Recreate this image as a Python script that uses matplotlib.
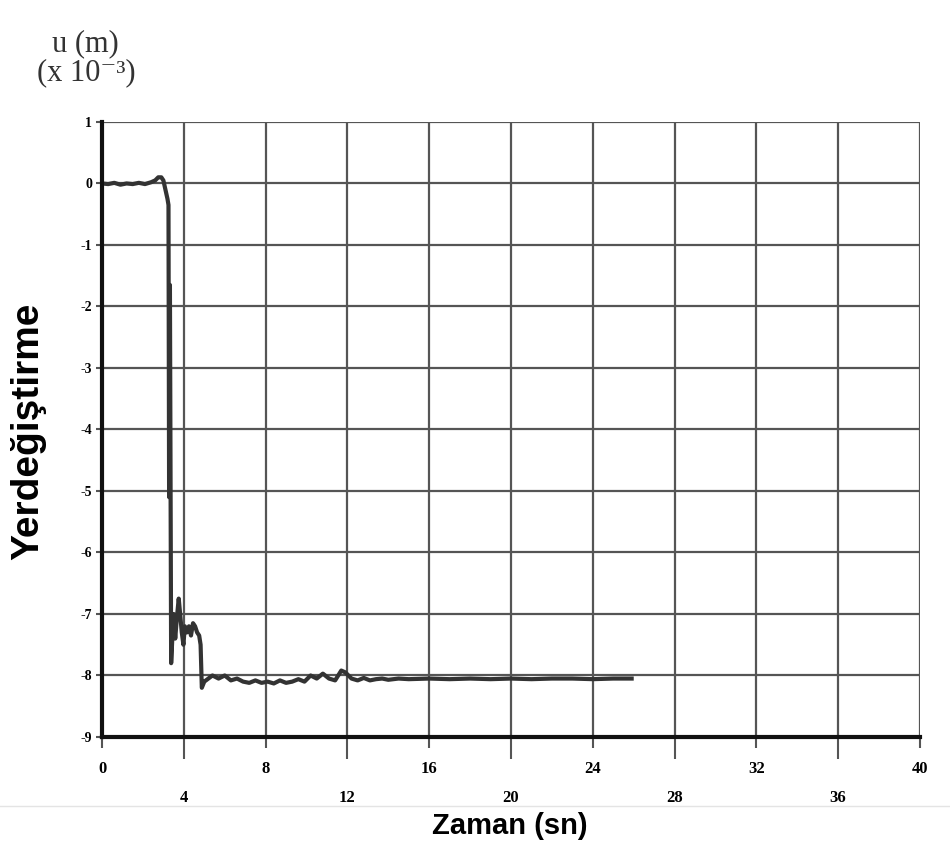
import matplotlib
matplotlib.use("Agg")
import matplotlib.pyplot as plt
from matplotlib.ticker import FixedLocator, FixedFormatter
from matplotlib.lines import Line2D

# Displacement record (time in s, displacement in m x 1e-3)
time_s = [0.0, 0.3, 0.6, 0.9, 1.2, 1.5, 1.8, 2.1, 2.4, 2.6, 2.75, 2.9, 3.0,
          3.1, 3.2, 3.25, 3.28, 3.32, 3.38, 3.45, 3.5, 3.58, 3.65, 3.75,
          3.82, 3.9, 3.98, 4.05, 4.15, 4.25, 4.35, 4.45, 4.55, 4.65, 4.75,
          4.82, 4.88, 5.0, 5.2, 5.4, 5.7, 6.0, 6.3, 6.6, 6.9, 7.2, 7.5,
          7.8, 8.1, 8.4, 8.7, 9.0, 9.3, 9.6, 9.9, 10.2, 10.5, 10.8, 11.1,
          11.4, 11.7, 11.9, 12.2, 12.5, 12.8, 13.1, 13.4, 13.7, 14.0, 14.5,
          15.0, 16.0, 17.0, 18.0, 19.0, 20.0, 21.0, 22.0, 23.0, 24.0, 25.0,
          25.9]
disp = [0.0, -0.01, 0.01, -0.02, 0.0, -0.01, 0.01, -0.01, 0.02, 0.05, 0.1,
        0.1, 0.05, -0.1, -0.25, -0.35, -5.1, -1.65, -7.8, -7.3, -7.0, -7.4,
        -7.1, -6.75, -7.0, -7.3, -7.5, -7.2, -7.3, -7.2, -7.35, -7.15,
        -7.2, -7.3, -7.35, -7.5, -8.2, -8.1, -8.05, -8.0, -8.05, -8.0,
        -8.08, -8.05, -8.1, -8.12, -8.08, -8.12, -8.1, -8.13, -8.08, -8.12,
        -8.1, -8.06, -8.1, -8.0, -8.05, -7.97, -8.05, -8.08, -7.92, -7.95,
        -8.05, -8.08, -8.04, -8.08, -8.06, -8.05, -8.07, -8.05, -8.06,
        -8.05, -8.06, -8.05, -8.06, -8.05, -8.06, -8.05, -8.05, -8.06,
        -8.05, -8.05]

upper_ticks = [0, 8, 16, 24, 32, 40]
lower_ticks = [4, 12, 20, 28, 36]
y_ticks = [1, 0, -1, -2, -3, -4, -5, -6, -7, -8, -9]

fig = plt.figure(figsize=(9.5, 8.44), dpi=100)
ax = fig.add_axes([0.1074, 0.1268, 0.8610, 0.7287])

ax.plot(time_s, disp, color="#333333", lw=3.0, solid_joinstyle="round",
        zorder=3)

ax.set_xlim(0, 40)
ax.set_ylim(-9, 1)

# grid lines every 4 s and every 1 unit
for xv in upper_ticks + lower_ticks:
    ax.axvline(xv, color="#555555", lw=1.6, zorder=1)
for yv in y_ticks:
    ax.axhline(yv, color="#555555", lw=1.6, zorder=1)

for side in ["top", "right"]:
    ax.spines[side].set_visible(False)
for side in ["left", "bottom"]:
    ax.spines[side].set_linewidth(3)
    ax.spines[side].set_color("#111111")
    ax.spines[side].set_zorder(4)

tick_font = dict(family="Liberation Serif", weight="bold")

ax.xaxis.set_major_locator(FixedLocator(upper_ticks))
ax.xaxis.set_major_formatter(FixedFormatter([str(v) for v in upper_ticks]))
ax.xaxis.set_minor_locator(FixedLocator(lower_ticks))
ax.xaxis.set_minor_formatter(FixedFormatter([str(v) for v in lower_ticks]))
ax.tick_params(axis="x", which="major", length=8, width=1.5,
               color="#555555", pad=9)
ax.tick_params(axis="x", which="minor", length=16, width=1.5,
               color="#555555", pad=22)
for lab in ax.get_xticklabels(which="both"):
    lab.set_fontproperties(tick_font)
    lab.set_fontsize(12)

ax.set_yticks(y_ticks)
ax.set_yticklabels([str(v) for v in y_ticks])
ax.tick_params(axis="y", length=4, width=1.5, color="#555555", pad=3)
for lab in ax.get_yticklabels():
    lab.set_fontproperties(tick_font)
    lab.set_fontsize(10)

fig.text(0.030, 0.489, "Yerdeğiştirme", rotation=90, ha="center",
         va="center", family="Liberation Sans", weight="bold", fontsize=28)
fig.text(0.537, 0.021, "Zaman (sn)", ha="center", va="center",
         family="Liberation Sans", weight="bold", fontsize=21)
fig.text(0.090, 0.948, "u (m)", ha="center", va="center",
         family="Liberation Serif", fontsize=22, color="#333333")
fig.text(0.091, 0.914, "(x 10⁻³)", ha="center", va="center",
         family=["Liberation Serif", "DejaVu Serif"], fontsize=22,
         color="#333333")

# faint separator line below the tick labels
fig.add_artist(Line2D([0, 1], [0.045, 0.045], transform=fig.transFigure,
                      color="#e4e4e4", lw=1))

fig.savefig("out.png", dpi=100, facecolor="white")
